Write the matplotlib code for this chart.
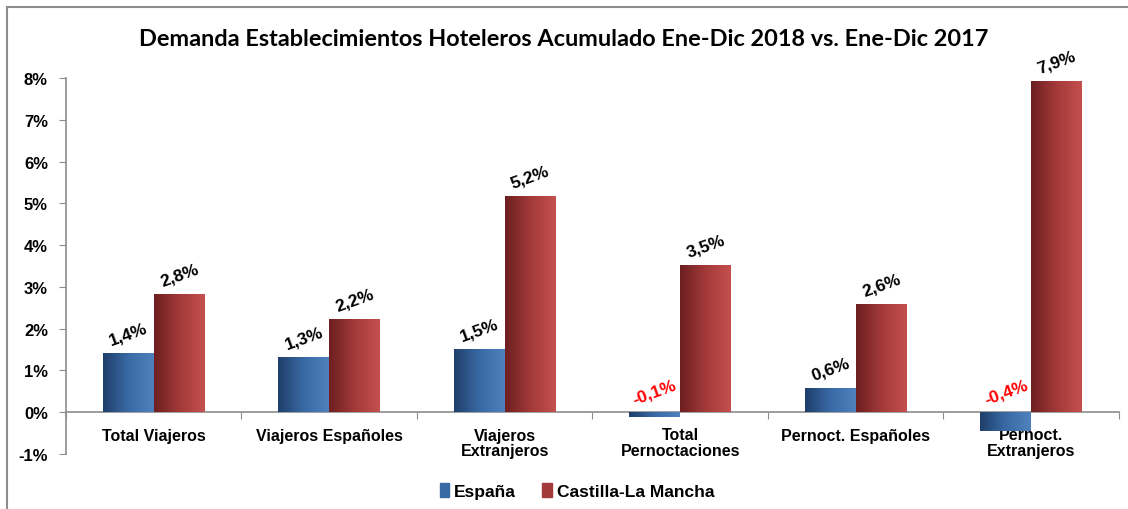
import numpy as np
import matplotlib
matplotlib.use("Agg")
import matplotlib.pyplot as plt
from matplotlib.colors import LinearSegmentedColormap
from matplotlib.patches import Rectangle, Patch

# data (% change)
categorias = ["Total Viajeros", "Viajeros Españoles", "Viajeros\nExtranjeros",
              "Total\nPernoctaciones", "Pernoct. Españoles", "Pernoct.\nExtranjeros"]
espana = [1.41, 1.32, 1.51, -0.12, 0.58, -0.44]
clm = [2.82, 2.24, 5.17, 3.53, 2.58, 7.93]
series = ["España", "Castilla-La Mancha"]
yticks = [-1, 0, 1, 2, 3, 4, 5, 6, 7, 8]
titulo = "Demanda Establecimientos Hoteleros Acumulado Ene-Dic 2018 vs. Ene-Dic 2017"

plt.rcParams['font.family'] = ['Liberation Sans', 'DejaVu Sans']

blue_cm = LinearSegmentedColormap.from_list("b", ["#1f3f6b", "#3a6aa6", "#4f81bd"])
red_cm = LinearSegmentedColormap.from_list("r", ["#6e1f20", "#a23a39", "#c4504e"])

fig = plt.figure(figsize=(11.28, 5.10), dpi=100)
ax = fig.add_axes([66/1128, 1-455/510, (1119-66)/1128, (455-79)/510])

x = np.arange(len(categorias))
w = 0.29
b1 = ax.bar(x - w/2, espana, w, color="#3a6aa6", zorder=3)
b2 = ax.bar(x + w/2, clm, w, color="#a23a39", zorder=3)

# horizontal gradient on each bar
grad = np.linspace(0, 1, 64).reshape(1, -1)
for bars, cm in ((b1, blue_cm), (b2, red_cm)):
    for p in bars:
        x0, y0 = p.get_x(), p.get_y()
        im = ax.imshow(grad, cmap=cm, aspect="auto", zorder=3.1,
                       extent=(x0, x0 + p.get_width(), y0, y0 + p.get_height()),
                       origin="lower")
        im.set_clip_path(p)

ax.set_xlim(-0.5, len(categorias) - 0.5)
ax.set_ylim(-1, 8)

# data labels
for vals, off in ((espana, -w/2), (clm, w/2)):
    for i, v in enumerate(vals):
        txt = ("%.1f%%" % v).replace(".", ",")
        ax.annotate(txt, (x[i] + off, max(v, 0)), xytext=(0, 4),
                    textcoords="offset points", ha="center", va="bottom",
                    rotation=20, fontsize=12.5, fontweight="bold",
                    color="red" if v < 0 else "black", zorder=5)

# axes styling
for s in ("top", "right"):
    ax.spines[s].set_visible(False)
ax.spines["bottom"].set_position(("data", 0))
for s in ("left", "bottom"):
    ax.spines[s].set_color("#8c8c8c")
    ax.spines[s].set_linewidth(1.2)

ax.set_yticks(yticks)
ax.set_yticklabels(["%d%%" % t for t in yticks], fontsize=12, fontweight="bold")
ax.tick_params(axis="y", direction="out", length=5, color="#8c8c8c", pad=8)

ax.set_xticks(np.arange(len(categorias) + 1) - 0.5)
ax.set_xticklabels([])
ax.set_xticks(x, minor=True)
ax.set_xticklabels(categorias, minor=True, fontsize=11.5, fontweight="bold",
                   linespacing=1.05)
ax.tick_params(axis="x", which="major", direction="out", length=5, color="#8c8c8c")
ax.tick_params(axis="x", which="minor", length=0, pad=11)

fig.text(0.5, 1 - 40/510, titulo, ha="center", va="center", fontsize=16.9,
         fontweight="bold", family=["Lato", "DejaVu Sans"])

handles = [Patch(color="#3a6aa6"), Patch(color="#a23a39")]
fig.legend(handles, series, loc="center", bbox_to_anchor=(577/1128, 1 - 492/510),
           ncol=2, frameon=False, handlelength=0.55, handleheight=0.9,
           handletextpad=0.3, columnspacing=1.5,
           prop={"weight": "bold", "size": 12.5})

fig.patches.append(Rectangle((7/1128, -0.1), 1.2, 1 - 8/510 + 0.1,
                             transform=fig.transFigure, fill=False,
                             edgecolor="#8c8c8c", lw=1.5))

fig.savefig("out.png", dpi=100)
